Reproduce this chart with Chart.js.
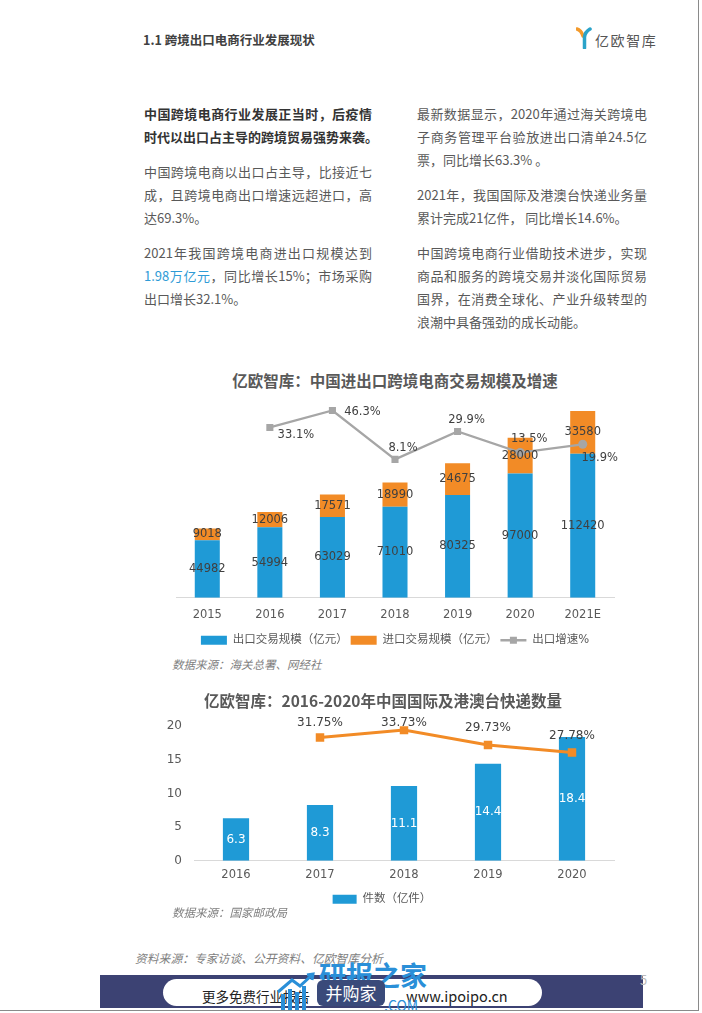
<!DOCTYPE html>
<html lang="zh-CN">
<head>
<meta charset="utf-8">
<title>1.1 跨境出口电商行业发展现状</title>
<script src="https://cdn.jsdelivr.net/npm/chart.js@4.4.1/dist/chart.umd.min.js"></script>
<style>
  html, body { margin: 0; padding: 0; background: #fff; }
  body { width: 702px; height: 1013px; position: relative; overflow: hidden;
         font-family: "Noto Sans CJK SC", "Noto Sans", sans-serif; }
  .abs { position: absolute; }
  .col { position: absolute; font-size: 13px; color: #595959; }
  .col .ln { height: 23px; line-height: 23px; white-space: nowrap; }
  .col .j { text-align: justify; text-align-last: justify; }
  .col .gap { height: 12px; }
  .col .b { color: #333; font-weight: bold; }
  .blue { color: #2E9BD6; }
  .ctitle { position: absolute; text-align: center; font-weight: bold; font-size: 15.5px;
            color: #595959; line-height: 22px; }
  .src { position: absolute; font-style: italic; font-size: 11.5px; color: #7f7f7f; line-height: 16px; }
  canvas { position: absolute; }
</style>
</head>
<body>

<!-- page header -->
<div class="abs" style="left:143px; top:31px; font-size:12.5px; font-weight:bold; color:#404040; line-height:18px;">1.1 跨境出口电商行业发展现状</div>
<svg class="abs" style="left:576px; top:27px;" width="16" height="22" viewBox="0 0 16 22">
  <path d="M1 2 Q5 3 7 9" stroke="#F39A2B" stroke-width="3.5" fill="none" stroke-linecap="round"/>
  <path d="M14 2 Q9 5 8.5 10 L8.5 21" stroke="#2AA3C9" stroke-width="3.5" fill="none" stroke-linecap="round"/>
</svg>
<div class="abs" style="left:595px; top:30px; font-size:14px; letter-spacing:1.6px; color:#555; line-height:20px;">亿欧智库</div>

<!-- left text column -->
<div class="col" style="left:144px; top:102px; width:228px;">
  <div class="ln j b">中国跨境电商行业发展正当时，后疫情</div>
  <div class="ln j b">时代以出口占主导的跨境贸易强势来袭。</div>
  <div class="gap"></div>
  <div class="ln j">中国跨境电商以出口占主导，比接近七</div>
  <div class="ln j">成，且跨境电商出口增速远超进口，高</div>
  <div class="ln">达69.3%。</div>
  <div class="gap"></div>
  <div class="ln j">2021年我国跨境电商进出口规模达到</div>
  <div class="ln j"><span class="blue">1.98万亿元</span>，同比增长15%；市场采购</div>
  <div class="ln">出口增长32.1%。</div>
</div>

<!-- right text column -->
<div class="col" style="left:417px; top:102px; width:230px;">
  <div class="ln j">最新数据显示，2020年通过海关跨境电</div>
  <div class="ln j">子商务管理平台验放进出口清单24.5亿</div>
  <div class="ln">票，同比增长63.3% 。</div>
  <div class="gap"></div>
  <div class="ln j">2021年，我国国际及港澳台快递业务量</div>
  <div class="ln">累计完成21亿件， 同比增长14.6%。</div>
  <div class="gap"></div>
  <div class="ln j">中国跨境电商行业借助技术进步，实现</div>
  <div class="ln j">商品和服务的跨境交易并淡化国际贸易</div>
  <div class="ln j">国界，在消费全球化、产业升级转型的</div>
  <div class="ln">浪潮中具备强劲的成长动能。</div>
</div>

<!-- chart 1 -->
<div class="ctitle" style="left:150px; top:369px; width:490px;">亿欧智库：中国进出口跨境电商交易规模及增速</div>
<canvas id="chart1" width="480" height="271" style="left:150px; top:385px;"></canvas>
<div class="src" style="left:172px; top:656px;">数据来源：海关总署、网经社</div>

<!-- chart 2 -->
<canvas id="chart2" width="480" height="208" style="left:150px; top:707px;"></canvas>
<div class="ctitle" style="left:150px; top:689px; width:466px;">亿欧智库：2016-2020年中国国际及港澳台快递数量</div>
<div class="src" style="left:172px; top:904px;">数据来源：国家邮政局</div>

<!-- footer -->
<div class="src" style="left:135px; top:950px; font-size:11.8px;">资料来源：专家访谈、公开资料、亿欧智库分析</div>
<div class="abs" style="left:100px; top:975px; width:543px; height:33px; background:#3C4273;"></div>
<div class="abs" style="left:163px; top:979px; width:379px; height:27px; border-radius:14px; background:#fff;"></div>
<div class="abs" style="left:202px; top:986px; font-size:13.5px; color:#222; line-height:20px;">更多免费行业报告</div>
<div class="abs" style="left:406px; top:985px; font-size:14.5px; color:#222; line-height:22px;">www.ipoipo.cn</div>
<svg class="abs" style="left:276px; top:972px;" width="40" height="38" viewBox="0 0 40 38">
  <path d="M2 20 L16 8 L24 14 L36 3" stroke="#2A8FD8" stroke-width="3" fill="none"/>
  <path d="M31 3 L37 2 L36 8" stroke="#2A8FD8" stroke-width="3" fill="none"/>
  <rect x="5" y="22" width="4" height="16" fill="#2A8FD8"/>
  <rect x="12" y="17" width="4" height="21" fill="#2A8FD8"/>
  <rect x="19" y="20" width="4" height="18" fill="#2A8FD8"/>
  <rect x="26" y="14" width="4" height="24" fill="#2A8FD8"/>
</svg>
<div class="abs" style="left:319px; top:958px; font-size:27px; font-weight:bold; color:#2A8FD8; line-height:34px; letter-spacing:0px;">研报之家</div>
<div class="abs" style="left:317px; top:980px; width:68px; height:26px; border-radius:6px; background:#3A4A7A; color:#fff; font-size:17px; line-height:26px; text-align:center;">并购家</div>
<div class="abs" style="left:384px; top:997px; font-size:14px; color:#2A8FD8; line-height:16px;">.COM</div>
<div class="abs" style="left:640px; top:972px; font-size:13px; color:#bbb; line-height:16px;">5</div>

<!-- page border -->
<div class="abs" style="left:698px; top:0; width:1px; height:1011px; background:#8a8a8a;"></div>
<div class="abs" style="left:0; top:1010px; width:699px; height:1px; background:#8a8a8a;"></div>

<script>
// ---- data ----
var years1 = ['2015', '2016', '2017', '2018', '2019', '2020', '2021E'];
var exportScale = [44982, 54994, 63029, 71010, 80325, 97000, 112420];
var importScale = [9018, 12006, 17571, 18990, 24675, 28000, 33580];
var exportGrowth = [null, 33.1, 46.3, 8.1, 29.9, 13.5, 19.9];

var years2 = ['2016', '2017', '2018', '2019', '2020'];
var parcels = [6.3, 8.3, 11.1, 14.4, 18.4];
var parcelGrowth = [null, 31.75, 33.73, 29.73, 27.78];

var BLUE = '#1F9AD6';
var ORANGE = '#F28B26';
var GRAY = '#A6A6A6';
var NUM_FONT = '"DejaVu Sans", "Noto Sans CJK SC", sans-serif';

Chart.defaults.font.family = NUM_FONT;
Chart.defaults.color = '#595959';

// draws value labels for bars (centered in segment) and line points (offset)
var pointLabels = {
  id: 'pointLabels',
  afterDatasetsDraw: function (chart, args, opts) {
    var ctx = chart.ctx;
    (opts.sets || []).forEach(function (s) {
      var meta = chart.getDatasetMeta(s.index);
      var data = chart.data.datasets[s.index].data;
      ctx.save();
      ctx.font = s.font;
      ctx.fillStyle = s.color;
      ctx.textAlign = 'center';
      ctx.textBaseline = 'middle';
      meta.data.forEach(function (el, i) {
        var v = data[i];
        if (v === null || v === undefined) return;
        var x = el.x, y = el.y;
        if (s.mode === 'center') y = (el.y + el.base) / 2;
        var off = s.offsets ? s.offsets[i] : [0, 0];
        x += off[0];
        y += off[1];
        ctx.fillText(s.format(v), x, y);
      });
      ctx.restore();
    });
  }
};

// little square on the line item of the legend
var legendMarker = {
  id: 'legendMarker',
  afterDraw: function (chart, args, opts) {
    var lg = chart.legend;
    if (!lg || !lg.legendHitBoxes) return;
    var hb = lg.legendHitBoxes[opts.item];
    if (!hb) return;
    var ctx = chart.ctx;
    ctx.save();
    ctx.fillStyle = opts.color;
    ctx.fillRect(hb.left + opts.boxWidth / 2 - 3.5, hb.top + hb.height / 2 - 3.5, 7, 7);
    ctx.restore();
  }
};

function fixLegend(chart) {
  var items = Chart.defaults.plugins.legend.labels.generateLabels(chart);
  items.sort(function (a, b) { return a.datasetIndex - b.datasetIndex; });
  items.forEach(function (it) {
    var ds = chart.data.datasets[it.datasetIndex];
    if (ds.type === 'line') {
      it.pointStyle = 'line';
      it.strokeStyle = ds.borderColor;
      it.lineWidth = 2.5;
    } else {
      it.pointStyle = 'rect';
      it.lineWidth = 0;
    }
  });
  return items;
}

// ---- chart 1 ----
new Chart(document.getElementById('chart1'), {
  type: 'bar',
  data: {
    labels: years1,
    datasets: [
      { label: '出口交易规模（亿元）', data: exportScale, backgroundColor: BLUE,
        stack: 's', order: 1, categoryPercentage: 0.8, barPercentage: 0.5 },
      { label: '进口交易规模（亿元）', data: importScale, backgroundColor: ORANGE,
        stack: 's', order: 2, categoryPercentage: 0.8, barPercentage: 0.5 },
      { type: 'line', label: '出口增速%', data: exportGrowth, yAxisID: 'y2', order: 0,
        borderColor: GRAY, backgroundColor: GRAY, borderWidth: 2.25,
        pointStyle: ['rect', 'rect', 'rect', 'rect', 'rect', 'circle', 'circle'],
        pointRadius: [5, 5, 5, 5, 5, 4.5, 4.5], pointBorderWidth: 0 }
    ]
  },
  options: {
    responsive: false,
    animation: false,
    events: [],
    layout: { autoPadding: false, padding: { left: 26, right: 16, top: 8, bottom: 0 } },
    scales: {
      x: { stacked: true, grid: { display: false, drawTicks: false },
           border: { color: '#D9D9D9', width: 1 },
           ticks: { padding: 10, color: '#595959', font: { size: 11.5 } } },
      y: { stacked: true, display: false, min: 0, max: 160000 },
      y2: { display: false, min: -100, max: 60 }
    },
    plugins: {
      tooltip: { enabled: false },
      legend: {
        position: 'bottom',
        labels: { usePointStyle: true, pointStyleWidth: 26, boxHeight: 9, padding: 3,
                  color: '#595959', font: { size: 11.5 }, generateLabels: fixLegend }
      },
      legendMarker: { item: 2, boxWidth: 26, color: GRAY },
      pointLabels: {
        sets: [
          { index: 0, mode: 'center', color: '#404040', font: '11.5px ' + NUM_FONT,
            format: function (v) { return String(v); } },
          { index: 1, mode: 'center', color: '#404040', font: '11.5px ' + NUM_FONT,
            format: function (v) { return String(v); } },
          { index: 2, color: '#404040', font: '11.5px ' + NUM_FONT,
            offsets: [[0, 0], [26, 8], [30, 1], [8, -11], [9, -11], [9, -13], [17, 14]],
            format: function (v) { return v.toFixed(1) + '%'; } }
        ]
      }
    }
  },
  plugins: [pointLabels, legendMarker]
});

// ---- chart 2 ----
new Chart(document.getElementById('chart2'), {
  type: 'bar',
  data: {
    labels: years2,
    datasets: [
      { label: '件数（亿件）', data: parcels, backgroundColor: BLUE, order: 1,
        categoryPercentage: 0.8, barPercentage: 0.39 },
      { type: 'line', label: '增速', data: parcelGrowth, yAxisID: 'y2', order: 0,
        borderColor: ORANGE, backgroundColor: ORANGE, borderWidth: 3,
        pointStyle: 'rect', pointRadius: 6, pointBorderWidth: 0 }
    ]
  },
  options: {
    responsive: false,
    animation: false,
    events: [],
    layout: { autoPadding: false, padding: { left: 0, right: 16, top: 13, bottom: 0 } },
    scales: {
      x: { grid: { display: false, drawTicks: false },
           border: { color: '#D9D9D9', width: 1 },
           ticks: { padding: 7, color: '#595959', font: { size: 11.5 } } },
      y: { min: 0, max: 20, grid: { display: false, drawTicks: false },
           border: { display: false },
           ticks: { stepSize: 5, padding: 12, color: '#595959', font: { size: 12 } },
           afterFit: function (s) { s.width = 44; } },
      y2: { display: false, min: -1, max: 34.75 }
    },
    plugins: {
      tooltip: { enabled: false },
      legend: {
        position: 'bottom',
        labels: { usePointStyle: true, pointStyleWidth: 24, boxHeight: 9, padding: 5,
                  color: '#595959', font: { size: 11.5 }, generateLabels: fixLegend,
                  filter: function (item) { return item.datasetIndex === 0; } }
      },
      pointLabels: {
        sets: [
          { index: 0, mode: 'center', color: '#ffffff', font: '12px ' + NUM_FONT,
            format: function (v) { return v.toFixed(1); } },
          { index: 1, color: '#404040', font: '12px ' + NUM_FONT,
            offsets: [[0, 0], [0, -15], [0, -7], [0, -17], [0, -17]],
            format: function (v) { return v.toFixed(2) + '%'; } }
        ]
      }
    }
  },
  plugins: [pointLabels]
});
</script>
</body>
</html>
